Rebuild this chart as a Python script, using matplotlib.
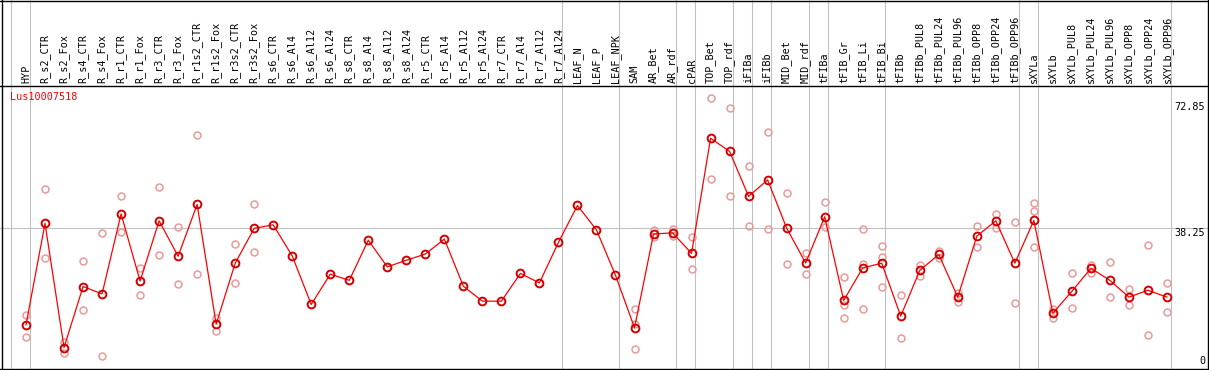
import matplotlib
matplotlib.use('Agg')
import matplotlib.pyplot as plt

# sample / tissue columns, left to right
samples = ['HYP', 'R_s2_CTR', 'R_s2_Fox', 'R_s4_CTR', 'R_s4_Fox', 'R_r1_CTR', 'R_r1_Fox',
           'R_r3_CTR', 'R_r3_Fox', 'R_r1s2_CTR', 'R_r1s2_Fox', 'R_r3s2_CTR', 'R_r3s2_Fox',
           'R_s6_CTR', 'R_s6_Al4', 'R_s6_Al12', 'R_s6_Al24', 'R_s8_CTR', 'R_s8_Al4',
           'R_s8_Al12', 'R_s8_Al24', 'R_r5_CTR', 'R_r5_Al4', 'R_r5_Al12', 'R_r5_Al24',
           'R_r7_CTR', 'R_r7_Al4', 'R_r7_Al12', 'R_r7_Al24', 'LEAF_N', 'LEAF_P', 'LEAF_NPK',
           'SAM', 'AR_Bet', 'AR_rdf', 'cPAR', 'TOP_Bet', 'TOP_rdf', 'iFIBa', 'iFIBb',
           'MID_Bet', 'MID_rdf', 'tFIBa', 'tFIB_Gr', 'tFIB_Li', 'tFIB_Bi', 'tFIBb',
           'tFIBb_PUL8', 'tFIBb_PUL24', 'tFIBb_PUL96', 'tFIBb_OPP8', 'tFIBb_OPP24',
           'tFIBb_OPP96', 'sXYLa', 'sXYLb', 'sXYLb_PUL8', 'sXYLb_PUL24', 'sXYLb_PUL96',
           'sXYLb_OPP8', 'sXYLb_OPP24', 'sXYLb_OPP96']

# mean expression per sample
means = [11.8, 39.6, 5.6, 22.3, 20.3, 42.2, 23.8, 40.3, 30.6, 44.8, 12.0, 28.7, 38.25,
         39.2, 30.7, 17.4, 25.7, 24.0, 35.0, 27.7, 29.5, 31.2, 35.3, 22.4, 18.3, 18.3,
         25.9, 23.3, 34.4, 44.5, 37.8, 25.4, 11.0, 36.7, 37.0, 31.4, 62.9, 59.3, 47.0,
         51.5, 38.3, 28.75, 41.4, 18.5, 27.4, 28.7, 14.2, 26.7, 31.1, 19.4, 36.1, 40.3,
         28.7, 40.4, 15.0, 21.0, 27.3, 24.0, 19.4, 21.3, 19.4]

# individual replicates per sample
replicates = [[14.5, 8.6], [48.9, 30.0], [7.2, 4.0], [29.2, 15.8], [36.9, 3.3],
              [47.0, 37.2], [27.3, 19.9], [49.5, 30.9], [38.5, 22.9], [63.7, 25.7],
              [13.7, 10.2], [34.0, 23.3], [44.8, 31.7],
              [], [], [], [], [], [], [], [], [], [], [], [], [], [], [], [], [], [], [],
              [16.2, 12.0, 5.1], [37.7, 35.9], [38.0, 36.2], [35.8, 27.0],
              [73.8, 51.7], [71.1, 47.2], [55.2, 38.8], [64.5, 38.0], [47.8, 28.5],
              [31.4, 25.7], [45.5, 38.7], [24.8, 17.3, 13.6], [38.0, 28.5, 16.1],
              [33.3, 30.3, 22.1], [20.0, 8.1], [28.2, 25.1], [32.1, 30.1], [20.6, 18.0],
              [38.8, 33.0], [42.1, 38.25], [39.9, 17.7], [45.1, 42.9, 33.0], [16.2, 13.7],
              [25.9, 16.3], [28.3, 26.1], [28.9, 19.4], [21.5, 17.2], [33.7, 9.0],
              [23.2, 15.3]]

# column index where a new tissue group starts
group_starts = [0, 1, 29, 32, 35, 36, 38, 39, 40, 42, 43, 46, 53, 54, 61]

gene_id = 'Lus10007518'
y_ticks = [72.85, 38.25, 0]

W, H = 1209, 370
PX0, PXSTEP = 26.0, 19.016   # column 0 position and column spacing (px)
PY0, PYSCALE = 368.0, 3.652  # y pixel of value 0, px per unit
HEADER = 86

mono = 'DejaVu Sans Mono'
fsize = 7.3
grey = '#c0c0c0'
lw_px = 0.75

fig = plt.figure(figsize=(W / 100, H / 100), dpi=100)
xlim = (-PX0 / PXSTEP, (W - PX0) / PXSTEP)

ax = fig.add_axes([0, 0, 1, (H - HEADER) / H])
ax.set_xlim(*xlim)
ax.set_ylim((PY0 - H) / PYSCALE, (PY0 - HEADER) / PYSCALE)
ax.axis('off')

hax = fig.add_axes([0, (H - HEADER) / H, 1, HEADER / H])
hax.set_xlim(*xlim)
hax.set_ylim(0, HEADER)
hax.axis('off')

# group separators, going through header and plot
for g in group_starts:
    xs = g - 15.3 / PXSTEP
    ax.axvline(xs, color=grey, lw=lw_px, zorder=1)
    hax.axvline(xs, color=grey, lw=lw_px, zorder=1)

ax.axhline(38.25, color=grey, lw=lw_px, zorder=1)

# replicates
for i, reps in enumerate(replicates):
    for v in reps:
        ax.plot(i, v, 'o', ms=5.0, mfc='none', mec='#e89a9a', mew=1.1, zorder=2)

xs = list(range(len(means)))
ax.plot(xs, means, '-', color='red', lw=0.9, zorder=3)
ax.plot(xs, means, 'o', ms=5.6, mfc='none', mec='#d00000', mew=1.4, zorder=4)

ax.text(10 / PXSTEP - PX0 / PXSTEP, (PY0 - 97) / PYSCALE, gene_id, color='red',
        family=mono, fontsize=fsize, ha='left', va='center')

# y labels on the right
ylab_x = 1205 / W
for v in y_ticks:
    if v == 0:
        ax.text(ylab_x, 0.5, '0', transform=ax.get_yaxis_transform(), family=mono,
                fontsize=fsize, ha='right', va='bottom')
    else:
        ax.text(ylab_x, v, f'{v:.2f}', transform=ax.get_yaxis_transform(), family=mono,
                fontsize=fsize, ha='right', va='top')

# sample names in the header
for i, name in enumerate(samples):
    hax.text(i, 3, name, rotation=90, family=mono, fontsize=fsize,
             ha='center', va='bottom')

# frame lines
frame = dict(color='black', lw=1.0)
fig.add_artist(plt.Line2D([0, 1], [1 - 0.5 / H, 1 - 0.5 / H], **frame))
fig.add_artist(plt.Line2D([0, 1], [1 - 85.5 / H, 1 - 85.5 / H], **frame))
fig.add_artist(plt.Line2D([0, 1], [1 - 368.5 / H, 1 - 368.5 / H], **frame))
fig.add_artist(plt.Line2D([1.5 / W, 1.5 / W], [0, 1], **frame))
fig.add_artist(plt.Line2D([1207.5 / W, 1207.5 / W], [0, 1], **frame))

fig.savefig('out.png', dpi=100)
